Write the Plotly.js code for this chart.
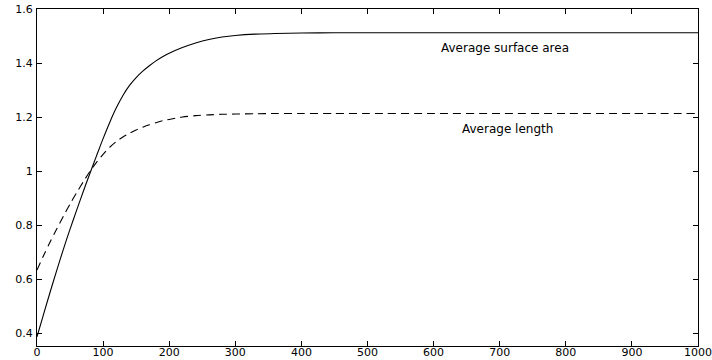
<!DOCTYPE html>
<html>
<head>
<meta charset="utf-8">
<script src="https://cdn.plot.ly/plotly-3.0.1.min.js"></script>
<style>html,body{margin:0;padding:0;background:#fff;}#chart{width:712px;height:360px;}</style>
</head>
<body>
<div id="chart"></div>
<script>
var xVals = [0, 10, 20, 30, 40, 50, 60, 70, 80, 90, 100, 110, 120, 130, 140, 150, 160, 170, 180, 190, 200, 220, 240, 260, 280, 300, 330, 360, 400, 450, 500, 600, 700, 800, 900, 1000];
var surfaceArea = [0.386, 0.47, 0.553, 0.633, 0.711, 0.785, 0.855, 0.924, 0.991, 1.056, 1.12, 1.18, 1.234, 1.28, 1.317, 1.346, 1.37, 1.39, 1.408, 1.423, 1.436, 1.457, 1.474, 1.487, 1.496, 1.502, 1.507, 1.509, 1.511, 1.512, 1.512, 1.512, 1.512, 1.512, 1.512, 1.512];
var avgLength = [0.633, 0.687, 0.738, 0.786, 0.833, 0.878, 0.92, 0.96, 0.998, 1.032, 1.062, 1.088, 1.109, 1.126, 1.14, 1.152, 1.162, 1.171, 1.179, 1.186, 1.191, 1.2, 1.205, 1.208, 1.21, 1.211, 1.212, 1.213, 1.213, 1.213, 1.213, 1.213, 1.213, 1.213, 1.213, 1.213];
var labels = ["Average surface area", "Average length"];
var labelX = [708, 712];
var labelY = [1.456, 1.156];
var xTicks = [0, 100, 200, 300, 400, 500, 600, 700, 800, 900, 1000];
var yTicks = [0.4, 0.6, 0.8, 1, 1.2, 1.4, 1.6];

var traces = [
  {x: xVals, y: surfaceArea, mode: 'lines', line: {color: '#000', width: 1.1, shape: 'spline', smoothing: 0.8}, hoverinfo: 'none'},
  {x: xVals, y: avgLength, mode: 'lines', line: {color: '#000', width: 1.1, dash: '8px,5px', shape: 'spline', smoothing: 0.8}, hoverinfo: 'none'}
];

var font = {family: 'DejaVu Sans, Arial, sans-serif', size: 11, color: '#000'};
var annFont = {family: 'DejaVu Sans, Arial, sans-serif', size: 12, color: '#000'};
var layout = {
  width: 712, height: 360,
  margin: {l: 37, r: 14, t: 9, b: 14},
  paper_bgcolor: '#fff', plot_bgcolor: '#fff',
  showlegend: false,
  font: font,
  xaxis: {range: [0, 1000], tickvals: xTicks, ticks: 'inside', ticklen: 5, tickcolor: '#000',
          showline: true, linecolor: '#000', linewidth: 1, mirror: 'ticks', showgrid: false, zeroline: false,
          tickfont: font, ticklabelstandoff: -4, fixedrange: true},
  yaxis: {range: [0.352, 1.6], tickvals: yTicks, ticks: 'inside', ticklen: 5, tickcolor: '#000',
          showline: true, linecolor: '#000', linewidth: 1, mirror: 'ticks', showgrid: false, zeroline: false,
          tickfont: font, ticklabelstandoff: 1, fixedrange: true},
  annotations: labels.map(function(t, i){
    return {x: labelX[i], y: labelY[i], xref: 'x', yref: 'y', text: t, showarrow: false, font: annFont};
  })
};
Plotly.newPlot('chart', traces, layout, {staticPlot: true});
</script>
</body>
</html>
